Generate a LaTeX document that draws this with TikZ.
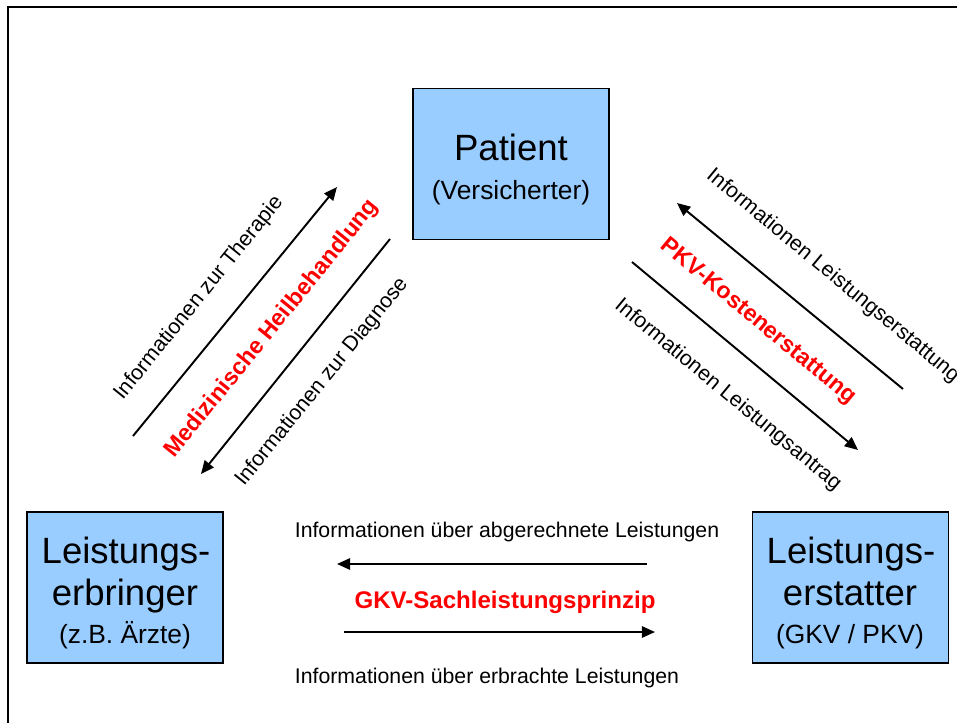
\documentclass[tikz,border=0pt]{standalone}
\usepackage{fontspec}
\setmainfont{Liberation Sans}
\usetikzlibrary{arrows.meta}
\definecolor{kastenblau}{HTML}{99CCFF}
\tikzset{
	kasten/.style={draw=black, line width=0.9pt, fill=kastenblau, minimum width=3.92cm, minimum height=3.02cm, inner sep=0pt},
	gross/.style={font=\fontsize{20.8}{24}\selectfont, inner sep=0pt, anchor=base},
	klein/.style={font=\fontsize{15}{18}\selectfont, inner sep=0pt, anchor=base},
	info/.style={font=\fontsize{12.1}{14}\selectfont, inner sep=0pt},
	rot/.style={font=\bfseries\fontsize{13.2}{16}\selectfont, text=red, inner sep=0pt},
	pfeil/.style={line width=1.1pt, -{Triangle[length=7.5pt, width=6.5pt]}},
}

\begin{document}
\begin{tikzpicture}[x=0.02cm, y=-0.02cm]
			%%%%% START %%%%%
			\useasboundingbox (0, 0) rectangle (957, 723);
			\draw[line width=0.9pt] (8, 723) -- (8, 7) -- (957, 7);
			
			% Kaesten
			\node[kasten] (patient) at (511, 164) {};
			\node[gross] (patient1) at (511, 160) {Patient};
			\node[klein] (patient2) at (511, 199) {(Versicherter)};
			
			\node[kasten] (erbringer) at (125, 587.5) {};
			\node[gross] (erbringer1) at (126, 563) {Leistungs-};
			\node[gross] (erbringer2) at (125, 605) {erbringer};
			\node[klein] (erbringer3) at (125, 643) {(z.B. Ärzte)};
			
			\node[kasten] (erstatter) at (850.5, 587.5) {};
			\node[gross] (erstatter1) at (851, 563) {Leistungs-};
			\node[gross] (erstatter2) at (850, 605) {erstatter};
			\node[klein] (erstatter3) at (850, 643) {(GKV / PKV)};
			
			% links: Patient <-> Leistungserbringer
			\coordinate (therapieA) at (133, 436);
			\coordinate (therapieB) at (337, 187);
			\coordinate (diagnoseA) at (390, 239);
			\coordinate (diagnoseB) at (201, 474);
			\draw[pfeil] (therapieA) -- (therapieB);
			\draw[pfeil] (diagnoseA) -- (diagnoseB);
			\node[info, rotate=51] (therapie) at (199, 298) {Informationen zur Therapie};
			\node[rot, rotate=51] (heil) at (272, 329) {Medizinische Heilbehandlung};
			\node[info, rotate=51] (diagnose) at (322, 382) {Informationen zur Diagnose};
			
			% rechts: Patient <-> Leistungserstatter
			\coordinate (erstattungA) at (903, 389);
			\coordinate (erstattungB) at (677, 203);
			\coordinate (antragA) at (632, 262);
			\coordinate (antragB) at (858, 450);
			\draw[pfeil] (erstattungA) -- (erstattungB);
			\draw[pfeil] (antragA) -- (antragB);
			\node[info, rotate=-39.6] (erstattung) at (833, 276) {Informationen Leistungserstattung};
			\node[rot, rotate=-39.6] (pkv) at (758, 322) {PKV-Kostenerstattung};
			\node[info, rotate=-39.6] (antrag) at (728, 395) {Informationen Leistungsantrag};
			
			% unten: Leistungserbringer <-> Leistungserstatter
			\coordinate (abgerechnetA) at (647, 564);
			\coordinate (abgerechnetB) at (337, 564);
			\coordinate (erbrachtA) at (344, 632);
			\coordinate (erbrachtB) at (655, 632);
			\draw[pfeil] (abgerechnetA) -- (abgerechnetB);
			\draw[pfeil] (erbrachtA) -- (erbrachtB);
			\node[info, anchor=base] (abgerechnet) at (507, 537) {Informationen über abgerechnete Leistungen};
			\node[rot, font=\bfseries\fontsize{13.7}{16}\selectfont, anchor=base] (gkv) at (505, 608) {GKV-Sachleistungsprinzip};
			\node[info, anchor=base] (erbracht) at (487, 683) {Informationen über erbrachte Leistungen};
			
			%%%%% END %%%%%
\end{tikzpicture}
\end{document}
